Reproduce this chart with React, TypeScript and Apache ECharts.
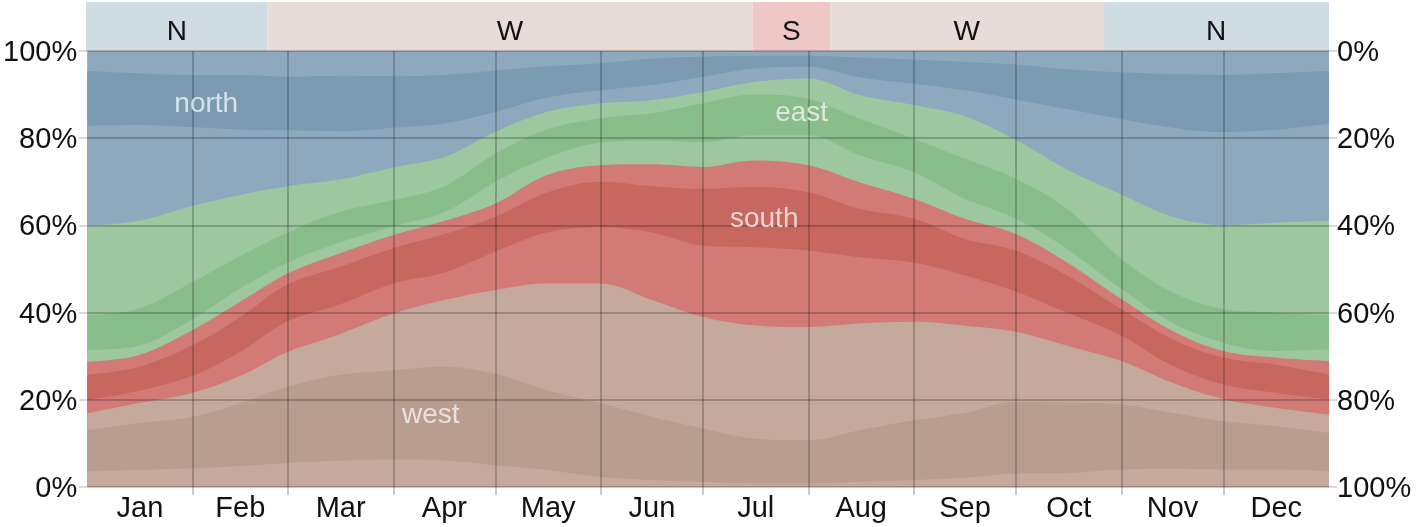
import React, { useEffect, useRef } from 'react';
import * as echarts from 'echarts';

// Day-of-year sample positions
const days = [0, 15, 31, 45, 59, 74, 90, 105, 120, 135, 151, 166, 181, 196, 212, 227, 243, 258, 273, 288, 304, 319, 334, 349, 365];

// Percentage of hours per band (bottom to top)
const westNW = [3.6, 3.9, 4.3, 4.8, 5.5, 6.0, 6.3, 6.1, 5.0, 3.9, 2.3, 1.6, 1.2, 0.8, 0.8, 1.2, 1.6, 2.1, 3.1, 3.2, 4.0, 4.1, 4.0, 4.0, 3.6];
const west = [9.4, 10.7, 11.8, 14.4, 17.5, 19.7, 20.5, 21.5, 21.0, 18.3, 16.9, 14.5, 12.2, 10.3, 9.9, 11.8, 13.7, 14.9, 16.4, 16.1, 14.9, 12.9, 11.1, 10.0, 8.8];
const westSW = [3.9, 4.6, 5.5, 6.3, 8.0, 9.3, 13.0, 15.3, 19.2, 24.5, 27.5, 26.8, 25.6, 26.0, 26.0, 24.5, 22.6, 20.0, 16.1, 13.1, 10.0, 6.9, 5.0, 4.2, 4.2];
const southSW = [3.0, 2.8, 3.9, 5.5, 7.0, 6.8, 6.9, 6.3, 8.8, 11.7, 12.9, 15.5, 16.4, 17.9, 17.5, 15.2, 13.6, 11.5, 9.2, 7.6, 5.8, 3.9, 3.4, 3.4, 3.5];
const south = [5.8, 5.5, 7.0, 8.0, 8.5, 8.6, 8.1, 8.8, 8.0, 9.1, 10.4, 10.6, 13.0, 13.8, 13.4, 11.1, 10.0, 8.4, 9.4, 8.5, 6.1, 6.1, 6.2, 6.5, 5.7];
const southSE = [3.0, 2.7, 3.5, 3.5, 2.5, 3.1, 3.0, 3.0, 3.0, 4.0, 3.8, 5.0, 5.0, 6.1, 6.2, 6.1, 4.6, 4.6, 3.8, 3.0, 2.3, 1.9, 1.5, 1.6, 3.1];
const eastSE = [2.7, 2.2, 2.5, 3.0, 2.5, 2.5, 2.0, 2.0, 5.0, 4.0, 5.2, 5.5, 5.7, 5.8, 6.9, 6.2, 6.1, 4.6, 3.5, 3.1, 2.3, 1.9, 1.9, 1.5, 2.7];
const east = [7.9, 8.4, 8.5, 7.5, 6.9, 7.0, 6.0, 6.0, 6.5, 6.5, 5.6, 6.2, 8.9, 9.3, 8.3, 8.4, 7.7, 9.2, 9.2, 9.2, 6.9, 6.9, 7.7, 8.8, 7.7];
const eastNE = [20.7, 20.2, 17.5, 14.0, 10.6, 7.5, 7.5, 6.7, 5.0, 4.0, 3.4, 3.0, 2.6, 2.9, 4.7, 5.4, 7.7, 9.7, 8.9, 9.0, 14.8, 17.4, 19.3, 20.6, 21.8];
const northNE = [22.8, 22.0, 18.0, 15.0, 12.8, 11.1, 9.1, 7.7, 4.5, 3.3, 3.0, 3.5, 3.5, 3.1, 2.7, 4.1, 4.9, 6.0, 9.3, 13.9, 17.3, 20.4, 21.3, 21.3, 22.2];
const north = [12.6, 11.9, 12.0, 12.5, 12.3, 12.7, 11.8, 11.1, 9.5, 7.2, 6.2, 6.1, 4.6, 2.9, 2.5, 4.5, 5.5, 6.5, 8.0, 9.1, 10.7, 12.3, 13.1, 13.0, 12.1];
const northNW = [4.6, 5.1, 5.5, 5.5, 5.9, 5.7, 5.8, 5.5, 4.5, 3.5, 2.8, 1.7, 1.3, 1.1, 1.1, 1.5, 2.0, 2.5, 3.1, 4.2, 4.9, 5.3, 5.5, 5.1, 4.6];

const monthNames = ['Jan', 'Feb', 'Mar', 'Apr', 'May', 'Jun', 'Jul', 'Aug', 'Sep', 'Oct', 'Nov', 'Dec'];
const monthStarts = [31, 59, 90, 120, 151, 181, 212, 243, 273, 304, 334];
const monthMids = [15.5, 45, 74.5, 105, 135.5, 166, 196.5, 227.5, 258, 288.5, 319, 349.5];

// Predominant direction strip
const dominantLabels = ['N', 'W', 'S', 'W', 'N'];
const dominantStart = [0, 53.3, 195.7, 218.5, 298.7];
const dominantEnd = [53.3, 195.7, 218.5, 298.7, 365];

// In-chart labels
const bandLabels = ['north', 'east', 'south', 'west'];
const bandLabelDay = [35, 210, 199, 101];
const bandLabelPct = [88.3, 86.2, 61.9, 16.9];

const FONT = '"Liberation Sans", Arial, Helvetica, sans-serif';
const GRID_COLOR = 'rgba(0,0,0,0.28)';

const C = {
  wl: '#c4a99c', wd: '#b99d8f',
  sl: '#d27b76', sd: '#c8675f',
  el: '#9dc79e', ed: '#8abd8c',
  nl: '#8ea9be', nd: '#7a9bb2',
};
const stripColors: Record<string, string> = { N: '#cfdce4', W: '#e7dcd7', S: '#eec8c7' };

const bands = [
  { name: 'west (NW)', data: westNW, color: C.wl },
  { name: 'west', data: west, color: C.wd },
  { name: 'west (SW)', data: westSW, color: C.wl },
  { name: 'south (SW)', data: southSW, color: C.sl },
  { name: 'south', data: south, color: C.sd },
  { name: 'south (SE)', data: southSE, color: C.sl },
  { name: 'east (SE)', data: eastSE, color: C.el },
  { name: 'east', data: east, color: C.ed },
  { name: 'east (NE)', data: eastNE, color: C.el },
  { name: 'north (NE)', data: northNE, color: C.nl },
  { name: 'north', data: north, color: C.nd },
  { name: 'north (NW)', data: northNW, color: C.nl },
];

export default function App() {
  const ref = useRef<HTMLDivElement>(null);

  useEffect(() => {
    if (!ref.current) return;
    const chart = echarts.init(ref.current, undefined, { renderer: 'svg' });

    // cumulative tops of every band (stacked by hand, since the x axis is a value axis)
    const running = days.map(() => 0);
    const stacked = bands.map((b) => {
      const tops = b.data.map((v, i) => (running[i] += v));
      return { ...b, tops: tops.slice() };
    });

    // draw the highest band first; each fills down to 0 and the lower ones are painted over it
    const areaSeries = stacked
      .slice()
      .reverse()
      .map((b) => ({
        type: 'line',
        name: b.name,
        xAxisIndex: 0,
        yAxisIndex: 0,
        data: days.map((d, i) => [d, Math.min(100, b.tops[i])]),
        showSymbol: false,
        symbol: 'none',
        smooth: 0.35,
        lineStyle: { width: 0, color: b.color },
        itemStyle: { color: b.color },
        areaStyle: { color: b.color, opacity: 1, origin: 'start' },
        silent: true,
        z: 2,
      }));

    const option: any = {
      animation: false,
      textStyle: { fontFamily: FONT },
      grid: [
        { left: 86, right: 87, top: 51, bottom: 40 },
        { left: 86, right: 87, top: 2, height: 49 },
      ],
      xAxis: [
        {
          type: 'value', gridIndex: 0, min: 0, max: 365, z: 5,
          axisLine: { show: false },
          axisTick: { show: true, customValues: monthStarts, length: 8, lineStyle: { color: GRID_COLOR, width: 1.5 } },
          axisLabel: {
            customValues: monthMids,
            formatter: (v: number) => {
              let best = 0;
              monthMids.forEach((m, i) => { if (Math.abs(m - v) < Math.abs(monthMids[best] - v)) best = i; });
              return monthNames[best];
            },
            fontSize: 29, color: '#111', margin: 5, fontFamily: FONT,
          },
          splitLine: { show: true, lineStyle: { color: GRID_COLOR, width: 1.5 } },
        },
        { type: 'value', gridIndex: 1, min: 0, max: 365, show: false },
      ],
      yAxis: [
        {
          type: 'value', gridIndex: 0, min: 0, max: 100, interval: 20, position: 'left', z: 5,
          axisLine: { show: false },
          axisTick: { show: true, length: 8, lineStyle: { color: '#cccccc', width: 1.5 } },
          axisLabel: { formatter: '{value}%', fontSize: 29, color: '#111', margin: 10, fontFamily: FONT },
          splitLine: { show: true, lineStyle: { color: GRID_COLOR, width: 1.5 } },
        },
        {
          type: 'value', gridIndex: 0, min: 0, max: 100, interval: 20, position: 'right', inverse: true,
          axisLine: { show: false },
          axisTick: { show: true, length: 8, lineStyle: { color: '#cccccc', width: 1.5 } },
          axisLabel: { formatter: '{value}%', fontSize: 29, color: '#111', margin: 8, fontFamily: FONT },
          splitLine: { show: false },
        },
        { type: 'value', gridIndex: 1, min: 0, max: 1, show: false },
      ],
      series: [
        ...areaSeries,
        {
          type: 'custom',
          xAxisIndex: 1,
          yAxisIndex: 2,
          silent: true,
          encode: { x: [0, 1], y: 2 },
          data: dominantStart.map((s, i) => [s, dominantEnd[i], i]),
          renderItem: (params: any, api: any) => {
            const idx = api.value(2);
            const label = dominantLabels[idx];
            const p0 = api.coord([api.value(0), 1]);
            const p1 = api.coord([api.value(1), 0]);
            return {
              type: 'group',
              children: [
                {
                  type: 'rect',
                  shape: { x: p0[0], y: p0[1], width: p1[0] - p0[0], height: p1[1] - p0[1] },
                  style: { fill: stripColors[label] },
                },
                {
                  type: 'text',
                  style: {
                    text: label,
                    x: (p0[0] + p1[0]) / 2,
                    y: (p0[1] + p1[1]) / 2 + 4,
                    align: 'center',
                    verticalAlign: 'middle',
                    fill: '#111',
                    fontSize: 28,
                    fontFamily: FONT,
                  },
                },
              ],
            };
          },
        },
        {
          type: 'scatter',
          xAxisIndex: 0,
          yAxisIndex: 0,
          z: 10,
          silent: true,
          symbolSize: 1,
          itemStyle: { color: 'rgba(0,0,0,0)' },
          data: bandLabels.map((t, i) => ({ name: t, value: [bandLabelDay[i], bandLabelPct[i]] })),
          label: { show: true, position: 'inside', formatter: '{b}', color: '#f2f2f2', fontSize: 28, fontFamily: FONT },
        },
      ],
    };

    chart.setOption(option);
    return () => chart.dispose();
  }, []);

  return <div ref={ref} style={{ position: 'fixed', left: 0, top: 0, width: 1416, height: 527 }} />;
}
